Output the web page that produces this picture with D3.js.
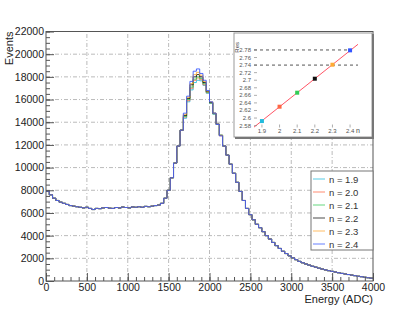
<!DOCTYPE html>
<html>
<head>
<meta charset="utf-8">
<script src="https://cdn.jsdelivr.net/npm/d3@7"></script>
<style>
  body { margin: 0; background: #fff; }
  text { font-family: "Liberation Sans", Arial, sans-serif; }
</style>
</head>
<body>
<div id="chart"></div>
<script>
// histogram bins: 40 ADC wide, 0..4000
var binWidth = 40

// bins 0 .. 1640 (all curves coincide here)
var sharedLow = [7900, 7600, 7300, 7100, 6950, 6850, 6750, 6650, 6600, 6550,
                 6500, 6450, 6500, 6400, 6300, 6400, 6380, 6450, 6480, 6420,
                 6400, 6480, 6440, 6520, 6480, 6450, 6530, 6500, 6550, 6500,
                 6580, 6550, 6600, 6650, 6700, 6850, 7300, 8000, 9100, 10400,
                 11900, 13300]

// bins 1680 .. 2120 (peak, one per curve)
var peak19 = [14350, 15800, 16850, 17500, 17700, 17650, 17250, 16550, 15650, 14700, 13800, 12850]
var peak20 = [14450, 15900, 17000, 17700, 17900, 17750, 17300, 16600, 15700, 14750, 13800, 12800]
var peak21 = [14500, 16000, 17100, 17800, 18000, 17850, 17400, 16650, 15700, 14750, 13800, 12850]
var peak22 = [14600, 16100, 17300, 18000, 18200, 18000, 17500, 16700, 15750, 14800, 13850, 12850]
var peak23 = [14700, 16200, 17400, 18200, 18400, 18150, 17600, 16750, 15800, 14800, 13800, 12850]
var peak24 = [14800, 16300, 17600, 18500, 18700, 18300, 17700, 16800, 15800, 14800, 13800, 12800]

// bins 2160 .. 3960
var sharedHigh = [11900, 11100, 10300, 9500, 8700, 7900, 7100, 6400, 5850, 5400,
                  5000, 4700, 4350, 4000, 3700, 3400, 3120, 2870, 2620, 2420,
                  2220, 2040, 1880, 1730, 1610, 1500, 1400, 1300, 1220, 1130,
                  1050, 980, 910, 850, 790, 730, 670, 620, 570, 520,
                  470, 420, 380, 330, 290, 250]

var seriesNames = ["n = 1.9", "n = 2.0", "n = 2.1", "n = 2.2", "n = 2.3", "n = 2.4"]
var seriesPeaks = [peak19, peak20, peak21, peak22, peak23, peak24]
var seriesColors = ["#22bbdd", "#ff6644", "#33cc55", "#111111", "#ffaa33", "#3355ff"]

var xTicks = [0, 500, 1000, 1500, 2000, 2500, 3000, 3500, 4000]
var yTicks = [0, 2000, 4000, 6000, 8000, 10000, 12000, 14000, 16000, 18000, 20000, 22000]

// inset: fitted value vs n
var insetN = [1.9, 2.0, 2.1, 2.2, 2.3, 2.4]
var insetVal = [2.592, 2.630, 2.667, 2.704, 2.741, 2.779]
var insetFit = [[1.855, 2.576], [2.445, 2.795]]
var insetRef = [[2.78, 2.4], [2.74, 2.445]]
var insetXTicks = [1.9, 2.0, 2.1, 2.2, 2.3, 2.4]
var insetYTicks = [2.58, 2.6, 2.62, 2.64, 2.66, 2.68, 2.7, 2.72, 2.74, 2.76, 2.78]

var W = 415, H = 314
var svg = d3.select("#chart").append("svg")
    .attr("width", W).attr("height", H)

var x = d3.scaleLinear().domain([0, 4000]).range([46, 373])
var y = d3.scaleLinear().domain([0, 22000]).range([281, 31.5])

// grid
svg.append("g").selectAll("line").data(xTicks.slice(1, -1)).enter().append("line")
  .attr("x1", d => x(d)).attr("x2", d => x(d))
  .attr("y1", y(0)).attr("y2", y(22000))
  .attr("stroke", "#bbb").attr("stroke-dasharray", "4,2,1,2")
svg.append("g").selectAll("line").data(yTicks.slice(1, -1)).enter().append("line")
  .attr("y1", d => y(d)).attr("y2", d => y(d))
  .attr("x1", x(0)).attr("x2", x(4000))
  .attr("stroke", "#bbb").attr("stroke-dasharray", "4,2,1,2")

// histograms
function buildSeries(peak) {
  var vals = sharedLow.concat(peak, sharedHigh)
  var pts = vals.map((v, i) => ({e: i * binWidth, v: v}))
  pts.push({e: vals.length * binWidth, v: vals[vals.length - 1]})
  return pts
}
var stepLine = d3.line()
  .x(d => x(d.e)).y(d => y(d.v))
  .curve(d3.curveStepAfter)

seriesPeaks.forEach(function(p, i) {
  svg.append("path")
    .datum(buildSeries(p))
    .attr("fill", "none")
    .attr("stroke", seriesColors[i])
    .attr("stroke-opacity", 0.85)
    .attr("stroke-width", 1)
    .attr("d", stepLine)
})

// frame
svg.append("rect")
  .attr("x", x(0)).attr("y", y(22000))
  .attr("width", x(4000) - x(0)).attr("height", y(0) - y(22000))
  .attr("fill", "none").attr("stroke", "#555").attr("stroke-width", 1)

// x axis
var minorX = d3.range(0, 4001, 100)
svg.append("g").attr("transform", "translate(0," + y(0) + ")")
  .call(d3.axisBottom(x).tickValues(minorX).tickSize(-4).tickFormat(""))
svg.append("g").attr("transform", "translate(0," + y(0) + ")")
  .call(d3.axisBottom(x).tickValues(xTicks).tickSize(-8).tickPadding(3).tickFormat(d3.format("d")))
// y axis
var minorY = d3.range(0, 22001, 500)
svg.append("g").attr("transform", "translate(" + x(0) + ",0)")
  .call(d3.axisLeft(y).tickValues(minorY).tickSize(-4).tickFormat(""))
svg.append("g").attr("transform", "translate(" + x(0) + ",0)")
  .call(d3.axisLeft(y).tickValues(yTicks).tickSize(-8).tickPadding(2).tickFormat(d3.format("d")))

svg.selectAll(".domain").remove()
svg.selectAll(".tick line").attr("stroke", "#555")
svg.selectAll(".tick text").attr("font-size", "10.5px").attr("fill", "#222")
  .attr("font-family", "Liberation Sans, Arial, sans-serif")

svg.append("text").attr("x", x(4000)).attr("y", 303)
  .attr("text-anchor", "end").attr("font-size", "11px").attr("fill", "#222")
  .text("Energy (ADC)")
svg.append("text")
  .attr("transform", "translate(13," + y(22000) + ") rotate(-90)")
  .attr("text-anchor", "end").attr("font-size", "11px").attr("fill", "#222")
  .text("Events")

// legend
var leg = svg.append("g")
leg.append("rect").attr("x", 311).attr("y", 171).attr("width", 62).attr("height", 79)
  .attr("fill", "#fff").attr("stroke", "#777")
seriesNames.forEach(function(name, i) {
  var ly = 179 + i * 13
  leg.append("line").attr("x1", 313).attr("x2", 325).attr("y1", ly).attr("y2", ly)
    .attr("stroke", seriesColors[i]).attr("stroke-opacity", 0.5).attr("stroke-width", 1.5)
  leg.append("text").attr("x", 329).attr("y", ly + 3.5)
    .attr("font-size", "9.5px").attr("fill", "#333").text(name)
})

// inset pad
var ins = svg.append("g")
ins.append("rect").attr("x", 234).attr("y", 33).attr("width", 138).attr("height", 104)
  .attr("fill", "#fff").attr("stroke", "#999")
ins.append("path").attr("d", "M373,34V138H235")
  .attr("fill", "none").attr("stroke", "#777").attr("stroke-width", 2)

var ix = d3.scaleLinear().domain([1.855, 2.445]).range([254, 358])
var iy = d3.scaleLinear().domain([2.575, 2.805]).range([127.5, 40.5])

insetRef.forEach(function(r) {
  ins.append("line").attr("x1", ix(1.855)).attr("x2", ix(r[1]))
    .attr("y1", iy(r[0])).attr("y2", iy(r[0]))
    .attr("stroke", "#555").attr("stroke-dasharray", "3,3")
})
ins.append("line")
  .attr("x1", ix(insetFit[0][0])).attr("y1", iy(insetFit[0][1]))
  .attr("x2", ix(insetFit[1][0])).attr("y2", iy(insetFit[1][1]))
  .attr("stroke", "#ff5566").attr("stroke-width", 1)
ins.selectAll(".pt").data(insetN).enter().append("rect")
  .attr("x", (d, i) => ix(d) - 2).attr("y", (d, i) => iy(insetVal[i]) - 2)
  .attr("width", 4).attr("height", 4)
  .attr("fill", (d, i) => seriesColors[i])

// inset ticks and labels
insetYTicks.forEach(function(t) {
  ins.append("line").attr("x1", 254).attr("x2", 257).attr("y1", iy(t)).attr("y2", iy(t))
    .attr("stroke", "#777").attr("stroke-width", 0.6)
  ins.append("text").attr("x", 251).attr("y", iy(t) + 2)
    .attr("text-anchor", "end").attr("font-size", "6px").attr("fill", "#555")
    .text(d3.format("~g")(t))
})
insetXTicks.forEach(function(t) {
  ins.append("line").attr("x1", ix(t)).attr("x2", ix(t)).attr("y1", 127.5).attr("y2", 124.5)
    .attr("stroke", "#777").attr("stroke-width", 0.6)
  ins.append("text").attr("x", ix(t)).attr("y", 133)
    .attr("text-anchor", "middle").attr("font-size", "6px").attr("fill", "#555")
    .text(d3.format("~g")(t))
})
ins.append("text").attr("x", 358).attr("y", 133).attr("text-anchor", "middle")
  .attr("font-size", "7px").attr("fill", "#444").text("n")
ins.append("text").attr("transform", "translate(239,42) rotate(-90)")
  .attr("text-anchor", "end").attr("font-size", "6px").attr("fill", "#444").text("Res")
</script>
</body>
</html>
